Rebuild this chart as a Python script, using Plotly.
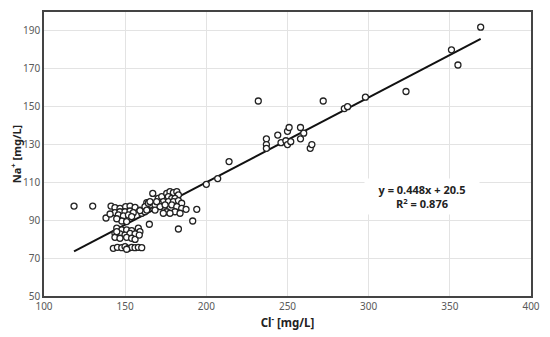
import plotly.graph_objects as go

# Chloride (x) and sodium (y) concentrations, mg/L
cl = [118.5, 130, 138.2,
      141.3, 143.7, 146.8, 150.3, 153, 156.1,
      143.7, 146.8, 149.9, 153, 155,
      140.7, 145.8, 148.9, 152, 154, 147.9, 144.8, 150.9,
      159.1, 160.2, 162.2, 163.3, 164.3, 165.7,
      144.8, 147.9, 150.9, 154, 158.1, 159.1,
      143.7, 146.8, 149.9, 153, 156.1,
      143.7, 146.8, 150.9, 154, 156.1, 158.7, 144.8,
      142.7, 145.2, 147.9, 149.9, 152, 154, 156.1, 158.1, 160.2, 150.9,
      167, 170.4, 172.5, 175.6, 177.6, 179.7, 181.8, 182.8, 176.6, 178.7,
      180.7, 173.5, 176.6, 179.7, 182.8, 184.8, 170.4, 168.4, 171.5, 174.6,
      178.7, 181.8, 184.8, 187.5, 168.4, 175.6, 180.7, 183.8, 173.5, 177.6,
      162.2, 164.3, 165.3, 169.4, 163.3,
      194.1, 191.6, 182.8, 164.9, 159.1,
      200, 207, 214, 232, 237, 237, 237, 244, 246, 249, 250, 250, 251, 252,
      258, 258, 260, 264, 265, 272, 285, 287, 298, 323, 351, 355, 369]
na = [97.5, 97.5, 91.2,
      97.5, 96.7, 96.3, 97.2, 97.5, 96.8,
      94, 94.5, 94.5, 94.9, 94,
      93.3, 92.8, 92.3, 92.8, 91.9, 89.6, 90.8, 89.3,
      95.4, 93.7, 94.5, 99.3, 97.2, 98.1,
      85.8, 84.9, 84.9, 84.5, 85.8, 84,
      83.1, 82.8, 82.2, 83.1, 82.8,
      81, 80.5, 81, 80.5, 79.9, 82.2, 84,
      75.2, 75.7, 75.5, 76.1, 75.2, 75.7, 75.5, 75.7, 75.5, 74.7,
      104.2, 101.6, 102.5, 104.2, 105.1, 104.6, 105.1, 103.4, 102.5, 101.6,
      101.6, 99.8, 99.8, 99.8, 100.4, 99, 99, 98.1, 97.2, 98.1,
      98.1, 97.2, 96.3, 95.8, 95.4, 94.5, 94.5, 93.7, 93.7, 93.7,
      97.2, 99, 99.8, 99.8, 95.4,
      95.8, 89.6, 85.4, 87.9, 95.1,
      109, 112, 121, 153, 133, 130, 128, 135, 131, 132, 130, 137, 139, 131.5,
      139, 133, 136, 128, 130, 153, 149, 150, 155, 158, 180, 172, 192]

slope = 0.448
intercept = 20.5
r2 = 0.876

x_ticks = [100, 150, 200, 250, 300, 350, 400]
y_ticks = [50, 70, 90, 110, 130, 150, 170, 190]

xmin, xmax = min(cl), max(cl)
fit_x = [xmin, xmax]
fit_y = [slope * v + intercept for v in fit_x]

fig = go.Figure()
fig.add_trace(go.Scatter(
    x=fit_x, y=fit_y, mode="lines",
    line=dict(color="#111111", width=2), hoverinfo="skip", showlegend=False))
fig.add_trace(go.Scatter(
    x=cl, y=na, mode="markers",
    marker=dict(symbol="circle", size=6, color="white",
                line=dict(color="#222222", width=1.3)),
    showlegend=False))

fig.add_annotation(
    x=333, y=102.3, xref="x", yref="y",
    text=f"<b>y = {slope}x + {intercept}<br>R<sup>2</sup> = {r2}</b>",
    showarrow=False, bgcolor="white", width=108, borderpad=3,
    font=dict(family="Open Sans, Noto Sans, sans-serif", size=11, color="#222222"),
    align="center")

axis_common = dict(
    showline=True, linecolor="#444444", linewidth=1.6, mirror=True,
    showgrid=True, gridcolor="#e3e3e3", gridwidth=1,
    zeroline=False, ticks="", automargin=False,
    tickfont=dict(family="Noto Sans, sans-serif", size=10, color="#595959"),
)

fig.update_xaxes(
    range=[100, 400], tickvals=x_ticks,
    title=dict(text="<b>Cl<sup>-</sup> [mg/L]</b>", standoff=4,
               font=dict(family="Noto Sans, sans-serif", size=11.5, color="#222222")),
    **axis_common)
fig.update_yaxes(
    range=[50, 200], tickvals=y_ticks,
    title=dict(text="<b>Na<sup>+</sup> [mg/L]</b>", standoff=11,
               font=dict(family="Noto Sans, sans-serif", size=11, color="#222222")),
    **axis_common)

# the page body adds an 8px offset; margins compensate so the plot area
# lands at the same place as in the reference
fig.update_layout(
    width=550, height=337,
    margin=dict(l=36, r=27, t=4, b=49),
    paper_bgcolor="white", plot_bgcolor="white",
)

fig.write_html("out.html")
